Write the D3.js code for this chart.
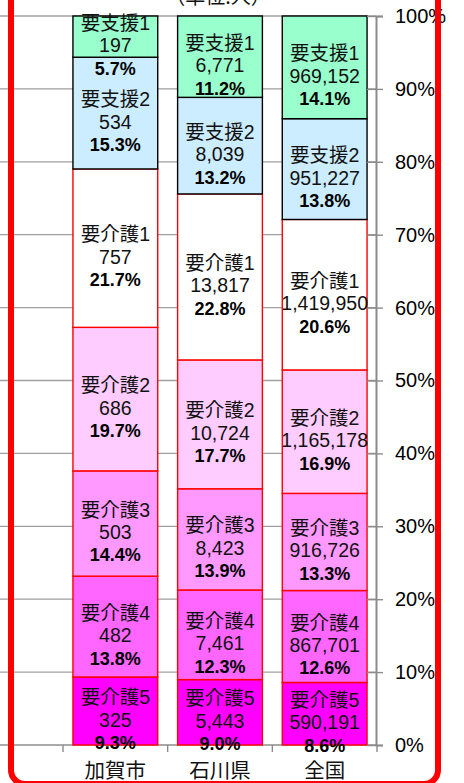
<!DOCTYPE html>
<html>
<head>
<meta charset="utf-8">
<script src="https://cdn.jsdelivr.net/npm/d3@7"></script>
<style>
html,body{margin:0;padding:0;background:#fff;}
svg{display:block;}
</style>
</head>
<body>
<svg id="chart" width="464" height="783"></svg>
<script>
const categories = ["加賀市", "石川県", "全国"];
const levels = ["要介護5", "要介護4", "要介護3", "要介護2", "要介護1", "要支援2", "要支援1"];
const kaga = [325, 482, 503, 686, 757, 534, 197];
const ishikawa = [5443, 7461, 8423, 10724, 13817, 8039, 6771];
const zenkoku = [590191, 867701, 916726, 1165178, 1419950, 951227, 969152];
const tickLabels = ["0%", "10%", "20%", "30%", "40%", "50%", "60%", "70%", "80%", "90%", "100%"];
const unitLabel = "（単位:人）";
const fills = ["#FF00FF", "#FF66FF", "#FF99FF", "#FFCCFF", "#FFFFFF", "#CCECFF", "#99FFCC"];
const strokes = ["#FF0000", "#FF0000", "#FF0000", "#FF0000", "#FF0000", "#000000", "#000000"];

const seriesValues = [kaga, ishikawa, zenkoku];
const rows = categories.map((c, i) => {
  const o = {cat: c};
  levels.forEach((l, j) => o[l] = seriesValues[i][j]);
  return o;
});
const totals = seriesValues.map(v => d3.sum(v));

const svg = d3.select("#chart");
const x = d3.scaleBand().domain(categories).range([63, 377]).paddingInner(0.19).paddingOuter(0.095);
const y = d3.scaleLinear().domain([0, 1]).range([745, 16]);
const axisX = 376;

const stack = d3.stack().keys(levels).offset(d3.stackOffsetExpand);
const layers = stack(rows);

// gridlines
const tickVals = tickLabels.map((t, i) => i / 10);
svg.append("g").selectAll("line").data(tickVals.filter(v => v > 0)).join("line")
  .attr("x1", 0).attr("x2", axisX)
  .attr("y1", d => y(d)).attr("y2", d => y(d))
  .attr("stroke", "#a0a0a0").attr("stroke-width", 1.3);

// bottom axis line
svg.append("line").attr("x1", 0).attr("x2", axisX).attr("y1", y(0)).attr("y2", y(0))
  .attr("stroke", "#8c8c8c").attr("stroke-width", 1.6);
// bottom ticks at band boundaries
const bounds = d3.range(categories.length + 1).map(i => x.range()[0] + i * x.step());
svg.append("g").selectAll("line").data(bounds).join("line")
  .attr("x1", d => d).attr("x2", d => d)
  .attr("y1", y(0)).attr("y2", y(0) + 7)
  .attr("stroke", "#8c8c8c").attr("stroke-width", 1.4);

// bars
const gBars = svg.append("g");
layers.forEach((layer, li) => {
  gBars.append("g").selectAll("rect").data(layer).join("rect")
    .attr("x", d => x(d.data.cat))
    .attr("width", x.bandwidth())
    .attr("y", d => y(d[1]))
    .attr("height", d => y(d[0]) - y(d[1]))
    .attr("fill", fills[li])
    .attr("stroke", strokes[li])
    .attr("stroke-width", 1.4);
});

// right axis
const yAxis = d3.axisRight(y).tickValues(tickVals).tickFormat((d, i) => tickLabels[i]).tickSize(7).tickPadding(12);
const ga = svg.append("g").attr("transform", `translate(${axisX},0)`).call(yAxis);
ga.select(".domain").attr("stroke", "#8c8c8c").attr("stroke-width", 2);
ga.selectAll(".tick line").attr("x1", -9).attr("x2", 7).attr("stroke", "#8c8c8c").attr("stroke-width", 1.4);
ga.selectAll(".tick text").attr("x", 19).attr("font-family", "'Liberation Sans', Arial, sans-serif")
  .attr("font-size", 20).attr("fill", "#000").attr("text-anchor", "start");

// labels
const fmtNum = d3.format(",");
const fmtPct = d3.format(".1%");
const gLab = svg.append("g");
layers.forEach((layer, li) => {
  layer.forEach((d, ci) => {
    const cx = x(d.data.cat) + x.bandwidth() / 2;
    const c = (y(d[0]) + y(d[1])) / 2;
    const val = seriesValues[ci][li];
    gLab.append("text").attr("x", cx).attr("y", c - 14).attr("dy", "0.36em")
      .attr("text-anchor", "middle").attr("font-family", "'Liberation Sans', 'Noto Sans CJK JP', sans-serif")
      .attr("font-size", 19.5).attr("fill", "#111").text(levels[li]);
    gLab.append("text").attr("x", cx).attr("y", c + 8.5).attr("dy", "0.36em")
      .attr("text-anchor", "middle").attr("font-family", "'Liberation Sans', Arial, sans-serif")
      .attr("font-size", 19.5).attr("fill", "#111").text(fmtNum(val));
    gLab.append("text").attr("x", cx).attr("y", c + 31.5).attr("dy", "0.36em")
      .attr("text-anchor", "middle").attr("font-family", "'Liberation Sans', Arial, sans-serif")
      .attr("font-size", 18).attr("font-weight", "bold").attr("fill", "#000").text(fmtPct(val / totals[ci]));
  });
});

// category labels
svg.append("g").selectAll("text").data(categories).join("text")
  .attr("x", d => x(d) + x.bandwidth() / 2).attr("y", 770.5).attr("dy", "0.35em")
  .attr("text-anchor", "middle").attr("font-family", "'Noto Sans CJK JP', sans-serif")
  .attr("font-size", 20.5).attr("fill", "#111").text(d => d);

// unit label (cut off at top)
svg.append("text").attr("x", x(categories[1]) + x.bandwidth() / 2 - 2).attr("y", 4)
  .attr("text-anchor", "middle").attr("font-family", "'Noto Sans CJK JP', sans-serif")
  .attr("font-size", 20).attr("fill", "#111").text(unitLabel);

// red rounded frame
svg.append("rect").attr("x", 11).attr("y", -40).attr("width", 427).attr("height", 824)
  .attr("rx", 14).attr("fill", "none").attr("stroke", "#FF0000").attr("stroke-width", 6);
</script>
</body>
</html>
